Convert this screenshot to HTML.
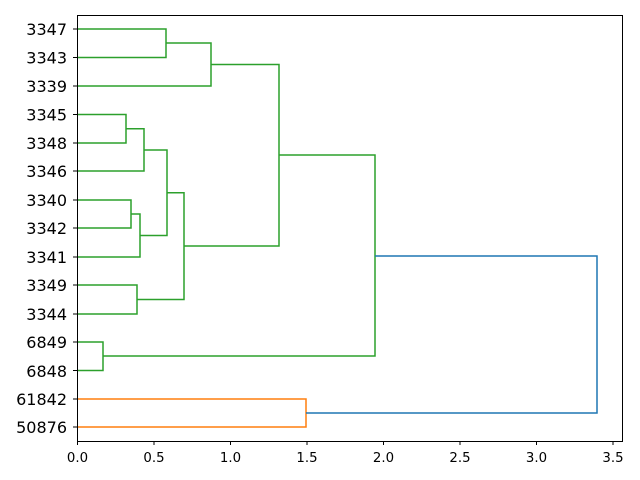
<!DOCTYPE html>
<html><head><meta charset="utf-8"><style>
html,body{margin:0;padding:0;background:#fff;}
svg{display:block;font-family:"DejaVu Sans","Liberation Sans",sans-serif;}
</style></head><body>
<svg width="640" height="480" viewBox="0 0 640 480" xmlns="http://www.w3.org/2000/svg">
<g fill="none" stroke-width="1.5">
<g stroke="#2ca02c">
<polyline points="77,29 166,29 166,57.5 77,57.5"/>
<polyline points="166,43 211,43 211,86 77,86"/>
<polyline points="77,114.5 126,114.5 126,143 77,143"/>
<polyline points="126,128.7 144,128.7 144,171 77,171"/>
<polyline points="77,200 131,200 131,228 77,228"/>
<polyline points="131,214 140,214 140,257 77,257"/>
<polyline points="144,150 167,150 167,235.5 140,235.5"/>
<polyline points="77,285 137,285 137,314 77,314"/>
<polyline points="167,192.7 184,192.7 184,299.5 137,299.5"/>
<polyline points="211,64.5 279,64.5 279,246 184,246"/>
<polyline points="77,342 103,342 103,370.5 77,370.5"/>
<polyline points="279,155 375,155 375,356 103,356"/>
</g>
<polyline stroke="#ff7f0e" points="77,399 306,399 306,427 77,427"/>
<polyline stroke="#1f77b4" points="375,256 597,256 597,413 306,413"/>
</g>
<rect x="77.5" y="15.5" width="545" height="426" fill="none" stroke="#000" stroke-width="1"/>
<g stroke="#000" stroke-width="1">
<line x1="77.5" y1="441" x2="77.5" y2="445"/>
<line x1="154" y1="441" x2="154" y2="445"/>
<line x1="230.5" y1="441" x2="230.5" y2="445"/>
<line x1="307" y1="441" x2="307" y2="445"/>
<line x1="383.5" y1="441" x2="383.5" y2="445"/>
<line x1="460" y1="441" x2="460" y2="445"/>
<line x1="536.5" y1="441" x2="536.5" y2="445"/>
<line x1="613" y1="441" x2="613" y2="445"/>
<line x1="73" y1="29" x2="77" y2="29"/>
<line x1="73" y1="57.5" x2="77" y2="57.5"/>
<line x1="73" y1="86" x2="77" y2="86"/>
<line x1="73" y1="114.5" x2="77" y2="114.5"/>
<line x1="73" y1="143" x2="77" y2="143"/>
<line x1="73" y1="171" x2="77" y2="171"/>
<line x1="73" y1="200" x2="77" y2="200"/>
<line x1="73" y1="228" x2="77" y2="228"/>
<line x1="73" y1="257" x2="77" y2="257"/>
<line x1="73" y1="285" x2="77" y2="285"/>
<line x1="73" y1="314" x2="77" y2="314"/>
<line x1="73" y1="342" x2="77" y2="342"/>
<line x1="73" y1="370.5" x2="77" y2="370.5"/>
<line x1="73" y1="399" x2="77" y2="399"/>
<line x1="73" y1="427" x2="77" y2="427"/>
</g>
<g font-size="13.3" text-anchor="middle" fill="#000">
<text x="77.5" y="462">0.0</text>
<text x="154" y="462">0.5</text>
<text x="230.5" y="462">1.0</text>
<text x="307" y="462">1.5</text>
<text x="383.5" y="462">2.0</text>
<text x="460" y="462">2.5</text>
<text x="536.5" y="462">3.0</text>
<text x="613" y="462">3.5</text>
</g>
<g font-size="16" text-anchor="end" fill="#000">
<text x="67" y="35">3347</text>
<text x="67" y="63.5">3343</text>
<text x="67" y="92">3339</text>
<text x="67" y="120.5">3345</text>
<text x="67" y="149">3348</text>
<text x="67" y="177">3346</text>
<text x="67" y="206">3340</text>
<text x="67" y="234">3342</text>
<text x="67" y="263">3341</text>
<text x="67" y="291">3349</text>
<text x="67" y="320">3344</text>
<text x="67" y="348">6849</text>
<text x="67" y="377">6848</text>
<text x="67" y="405">61842</text>
<text x="67" y="433">50876</text>
</g>
</svg>
</body></html>
